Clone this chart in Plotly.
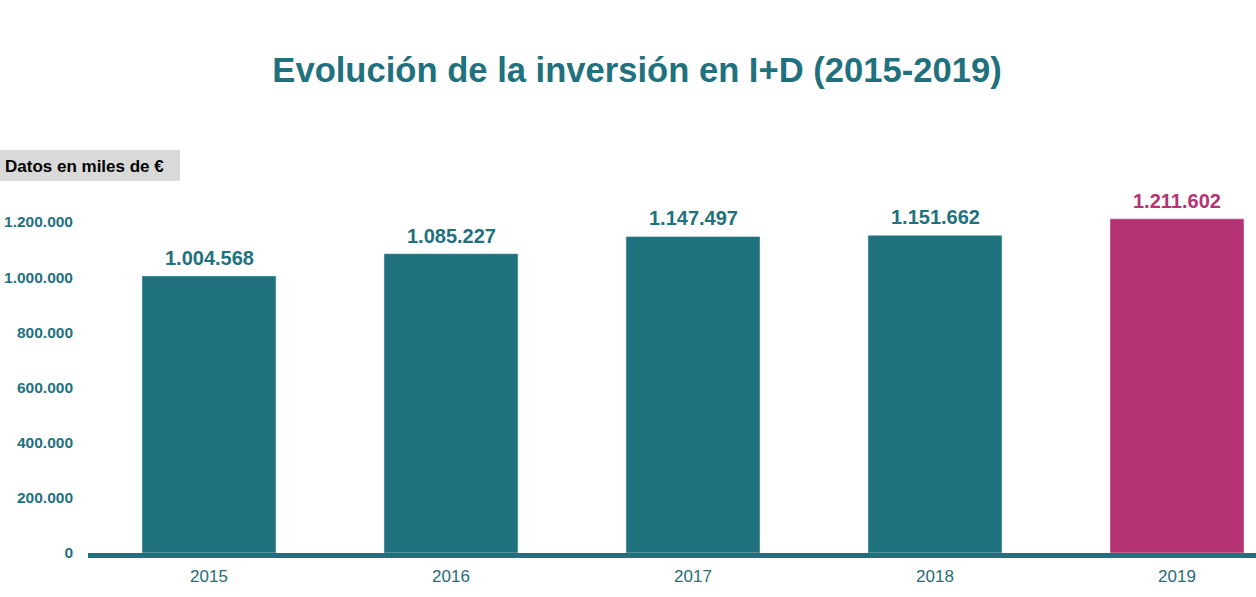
import plotly.graph_objects as go

years = ["2015", "2016", "2017", "2018", "2019"]
values = [1004568, 1085227, 1147497, 1151662, 1211602]
labels = ["1.004.568", "1.085.227", "1.147.497", "1.151.662", "1.211.602"]
tick_vals = [0, 200000, 400000, 600000, 800000, 1000000, 1200000]
tick_text = ["0", "200.000", "400.000", "600.000", "800.000", "1.000.000", "1.200.000"]

TEAL = "#1f717e"
MAGENTA = "#b53372"
colors = [TEAL] * 4 + [MAGENTA]
FONT = "Liberation Sans, Arial, Helvetica, sans-serif"

W, H = 1256, 597
ML, MR, MT, MB = 88, 0, 140, 44

fig = go.Figure()
fig.add_trace(go.Bar(x=years, y=values, marker_color=colors, width=0.554,
                     hoverinfo="skip"))

for i, (v, lab, c) in enumerate(zip(values, labels, colors)):
    fig.add_annotation(x=i, y=v, text=f"<b>{lab}</b>", showarrow=False,
                       yanchor="bottom", yshift=5,
                       font=dict(family=FONT, size=20, color=c))

pw = W - ML - MR
ph = H - MT - MB
fig.add_shape(type="rect", xref="paper", yref="paper",
              x0=-ML / pw, x1=(180 - ML) / pw,
              y0=(H - MB - 181) / ph, y1=(H - MB - 150) / ph,
              fillcolor="#d9d9d9", line_width=0, layer="below")
fig.add_annotation(xref="paper", yref="paper", x=(3 - ML) / pw, y=(H - MB - 166) / ph,
                   xanchor="left", yanchor="middle", showarrow=False,
                   text="<b>Datos en miles de €</b>",
                   font=dict(family=FONT, size=17, color="#000000"))

fig.update_layout(
    width=W, height=H,
    margin=dict(l=ML, r=MR, t=MT, b=MB),
    paper_bgcolor="white", plot_bgcolor="white",
    showlegend=False,
    bargap=0.446,
    title=dict(text="<b>Evolución de la inversión en I+D (2015-2019)</b>",
               x=637 / W, xanchor="center", xref="container",
               y=1 - 70 / H, yanchor="middle", yref="container",
               font=dict(family=FONT, size=34.6, color=TEAL)),
    xaxis=dict(type="category", range=[-0.5, 4.5 - 42 / 242],
               showline=True, linewidth=5, linecolor=TEAL,
               showgrid=False, zeroline=False, ticks="",
               ticklabelstandoff=4,
               tickfont=dict(family=FONT, size=17, color="#2a6b76")),
    yaxis=dict(range=[0, 1.2e6 * (H - MT - MB) / 331], showgrid=False, zeroline=False,
               showline=False,
               tickvals=tick_vals, ticktext=tick_text, ticks="",
               ticklabelstandoff=14,
               tickfont=dict(family=FONT, size=15.5, color=TEAL, weight="bold")),
)

fig.write_html("out.html")
